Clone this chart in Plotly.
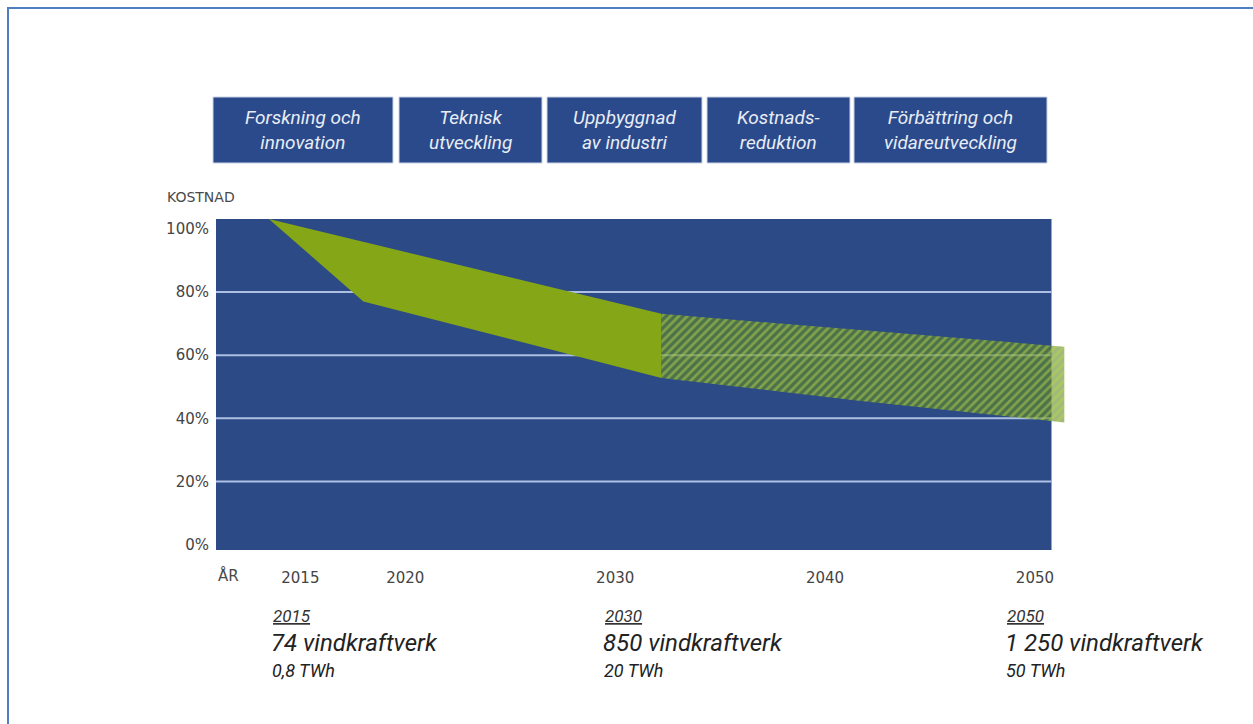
import plotly.graph_objects as go

# ---------------- data ----------------
phases = ["Forskning och<br>innovation", "Teknisk<br>utveckling", "Uppbyggnad<br>av industri",
          "Kostnads-<br>reduktion", "Förbättring och<br>vidareutveckling"]

solid_upper_years = [2013.5, 2032.2]
solid_upper_vals = [103.1, 73.1]
solid_lower_years = [2013.5, 2018.0, 2032.2]
solid_lower_vals = [103.1, 77.0, 52.8]

hatch_upper_years = [2032.2, 2051.4]
hatch_upper_vals = [73.1, 62.7]
hatch_lower_years = [2032.2, 2041.6, 2051.4]
hatch_lower_vals = [52.8, 45.6, 38.7]

x_ticks = [2015, 2020, 2030, 2040, 2050]
y_ticks = [0, 20, 40, 60, 80, 100]

milestone_years = ["2015", "2030", "2050"]
milestone_turbines = ["74 vindkraftverk", "850 vindkraftverk", "1 250 vindkraftverk"]
milestone_twh = ["0,8 TWh", "20 TWh", "50 TWh"]

# ---------------- layout geometry ----------------
W, H = 1253, 724
PL, PR, PT, PB = 216, 1070, 219, 550
X_RANGE = [2010.98, 2051.67]
Y_RANGE = [-1.66, 103.1]

def px2x(px):
    return (px - PL) / (PR - PL)

def py2y(py):
    return (PB - py) / (PB - PT)

BLUE = "#2c4a86"
GREEN = "#85a616"

fig = go.Figure()

# solid band
fig.add_trace(go.Scatter(
    x=solid_upper_years + solid_lower_years[::-1],
    y=solid_upper_vals + solid_lower_vals[::-1],
    fill="toself", fillcolor=GREEN, mode="lines", line=dict(width=0),
    hoverinfo="skip", showlegend=False))

# hatched band
fig.add_trace(go.Scatter(
    x=hatch_upper_years + hatch_lower_years[::-1],
    y=hatch_upper_vals + hatch_lower_vals[::-1],
    fill="toself", mode="lines", line=dict(width=0),
    fillcolor="rgba(95,140,35,0.6)",
    fillpattern=dict(shape="/", fgcolor="#bcd24a", bgcolor="rgba(95,140,35,0.6)",
                     size=6, solidity=0.45),
    hoverinfo="skip", showlegend=False))

shapes = []
shapes.append(dict(type="rect", xref="paper", yref="paper", x0=0, x1=px2x(1051.5), y0=0, y1=1,
                   fillcolor=BLUE, line=dict(width=0), layer="below"))
for v in y_ticks:
    if 0 < v < 100:
        shapes.append(dict(type="line", xref="paper", yref="y", x0=0, x1=px2x(1051.5), y0=v, y1=v,
                           line=dict(color="#aebfe4", width=2), layer="below"))
box_px = [(213, 393), (399, 542), (547, 702), (707, 850), (854, 1047)]
for x0, x1 in box_px:
    shapes.append(dict(type="rect", xref="paper", yref="paper",
                       x0=px2x(x0), x1=px2x(x1), y0=py2y(163), y1=py2y(97),
                       fillcolor="#2b4a8b", line=dict(color="#c9d3e4", width=1)))
shapes.append(dict(type="line", xref="paper", yref="paper", x0=px2x(8), x1=px2x(8),
                   y0=py2y(7), y1=py2y(730), line=dict(color="#4f7fc1", width=2)))
shapes.append(dict(type="line", xref="paper", yref="paper", x0=px2x(7), x1=px2x(1260),
                   y0=py2y(8), y1=py2y(8), line=dict(color="#4f7fc1", width=2)))

annotations = []
for (x0, x1), label in zip(box_px, phases):
    annotations.append(dict(xref="paper", yref="paper", x=px2x((x0 + x1) / 2), y=py2y(130),
                            text=label, showarrow=False, xanchor="center", yanchor="middle",
                            font=dict(family="Roboto", size=19, color="#e8edf5", style="italic"),
                            align="center"))

annotations.append(dict(xref="paper", yref="paper", x=px2x(165), y=py2y(197), text="KOSTNAD",
                        showarrow=False, xanchor="left", yanchor="middle",
                        font=dict(family="DejaVu Sans", size=14, color="#4a4a4a")))
annotations.append(dict(xref="paper", yref="paper", x=px2x(216), y=py2y(575), text="ÅR",
                        showarrow=False, xanchor="left", yanchor="middle",
                        font=dict(family="DejaVu Sans", size=15, color="#4a4a4a")))

mile_px = [271, 603, 1005]
for px, yr, turb, twh in zip(mile_px, milestone_years, milestone_turbines, milestone_twh):
    annotations.append(dict(xref="paper", yref="paper", x=px2x(px), y=py2y(616), text=yr,
                            showarrow=False, xanchor="left", yanchor="middle",
                            font=dict(family="Roboto", size=17, color="#333333", style="italic",
                                      lineposition="under")))
    annotations.append(dict(xref="paper", yref="paper", x=px2x(px - 2), y=py2y(643), text=turb,
                            showarrow=False, xanchor="left", yanchor="middle",
                            font=dict(family="Roboto", size=24, color="#222222", style="italic")))
    annotations.append(dict(xref="paper", yref="paper", x=px2x(px - 1), y=py2y(670), text=twh,
                            showarrow=False, xanchor="left", yanchor="middle",
                            font=dict(family="Roboto", size=18, color="#222222", style="italic")))

fig.update_layout(
    width=W, height=H,
    margin=dict(l=PL, r=W - PR, t=PT, b=H - PB, pad=0),
    paper_bgcolor="white", plot_bgcolor="white",
    shapes=shapes, annotations=annotations,
    showlegend=False,
    xaxis=dict(range=X_RANGE, tickvals=x_ticks, ticktext=[str(t) for t in x_ticks],
               showgrid=False, zeroline=False, showline=False, ticks="",
               ticklabelstandoff=17,
               tickfont=dict(family="DejaVu Sans", size=15, color="#444444")),
    yaxis=dict(range=Y_RANGE, tickvals=y_ticks, ticktext=[f"{v}%" for v in y_ticks],
               showgrid=False, zeroline=False, showline=False, ticks="",
               ticklabelstandoff=6,
               tickfont=dict(family="DejaVu Sans", size=15, color="#444444")),
)

fig.write_html("out.html", config={"displayModeBar": False},
               post_script="document.body.style.margin='0';document.body.style.overflow='hidden';")
